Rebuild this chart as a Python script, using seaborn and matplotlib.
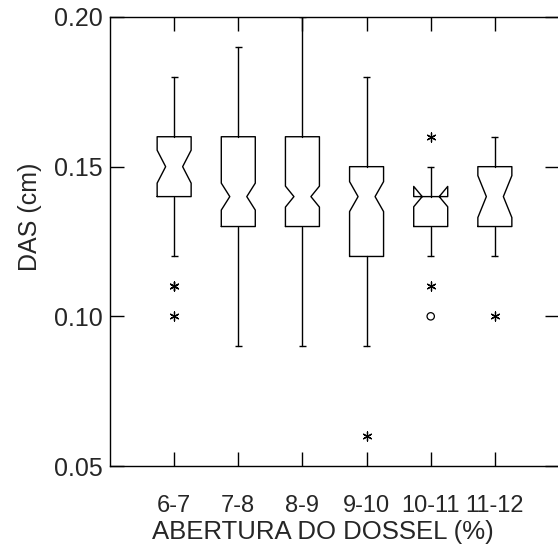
import matplotlib
matplotlib.use("Agg")
import matplotlib.pyplot as plt
import seaborn as sns
import numpy as np

# ---- data ----
categories = ['6-7', '7-8', '8-9', '9-10', '10-11', '11-12']
q1 = [0.14, 0.13, 0.13, 0.12, 0.13, 0.13]
med = [0.15, 0.14, 0.14, 0.14, 0.14, 0.14]
q3 = [0.16, 0.16, 0.16, 0.15, 0.14, 0.15]
whislo = [0.12, 0.09, 0.09, 0.09, 0.12, 0.12]
whishi = [0.18, 0.19, 0.20, 0.18, 0.15, 0.16]
cilo = [0.1445, 0.1355, 0.1365, 0.135, 0.1366, 0.133]
cihi = [0.1555, 0.1445, 0.1435, 0.145, 0.1434, 0.147]
# outside values (asterisks) and far outside values (circles)
star_cat = ['6-7', '6-7', '6-7', '9-10', '10-11', '10-11', '11-12']
star_val = [0.11, 0.11, 0.10, 0.06, 0.16, 0.11, 0.10]
circle_cat = ['10-11']
circle_val = [0.10]
y_ticks = [0.05, 0.10, 0.15, 0.20]

sns.set_style("ticks")
plt.rcParams['font.family'] = ['Liberation Sans', 'DejaVu Sans']

fig = plt.figure(figsize=(5.58, 5.52), dpi=100)
ax = fig.add_axes([110 / 558, 86 / 552, 449 / 558, 449 / 552])

positions = list(range(len(categories)))
stats = []
for i, c in enumerate(categories):
    stats.append(dict(label=c, q1=q1[i], med=med[i], q3=q3[i],
                      whislo=whislo[i], whishi=whishi[i],
                      cilo=cilo[i], cihi=cihi[i], fliers=[]))

box_w = 0.53
lw = 1.0
ax.bxp(stats, positions=positions, widths=box_w, capwidths=0.22,
       shownotches=True, showcaps=False, showfliers=False,
       boxprops=dict(color='black', linewidth=lw),
       whiskerprops=dict(color='black', linewidth=lw),
       medianprops=dict(linestyle='none'))

# whisker caps
cap_w = 0.11
ax.hlines(whislo, np.array(positions) - cap_w / 2, np.array(positions) + cap_w / 2,
          color='black', linewidth=lw)
ax.hlines(whishi, np.array(positions) - cap_w / 2, np.array(positions) + cap_w / 2,
          color='black', linewidth=lw)

cat_index = {c: i for i, c in enumerate(categories)}
sns.scatterplot(x=[cat_index[c] for c in star_cat], y=star_val, ax=ax,
                marker=(6, 2, 0), s=42, color='black', linewidth=0.9, zorder=5)
sns.scatterplot(x=[cat_index[c] for c in circle_cat], y=circle_val, ax=ax,
                marker='o', s=28, facecolors='none', edgecolor='black',
                linewidth=0.9, zorder=5)

ax.set_xlim(-1, len(categories))
ax.set_ylim(0.05, 0.20)
ax.set_xticks(positions)
ax.set_xticklabels(categories)
ax.set_yticks(y_ticks)
ax.set_yticklabels([f"{v:.2f}" for v in y_ticks])

for s in ax.spines.values():
    s.set_linewidth(1.0)
    s.set_color('black')

ax.tick_params(axis='both', direction='in', length=10, width=1.0,
               top=True, right=True, color='black')
ax.tick_params(axis='x', labelsize=17, pad=21)
ax.tick_params(axis='y', labelsize=18, pad=5)

ax.set_xlabel('ABERTURA DO DOSSEL (%)', fontsize=18.5)
ax.set_ylabel('DAS (cm)', fontsize=18)
ax.xaxis.set_label_coords((323 - 110) / 449, -(532 - 466) / 449)
ax.yaxis.set_label_coords((30 - 110) / 449, (466 - 217) / 449)
ax.xaxis.label.set_va('center')
ax.yaxis.label.set_va('center')

fig.savefig('out.png', dpi=100)
